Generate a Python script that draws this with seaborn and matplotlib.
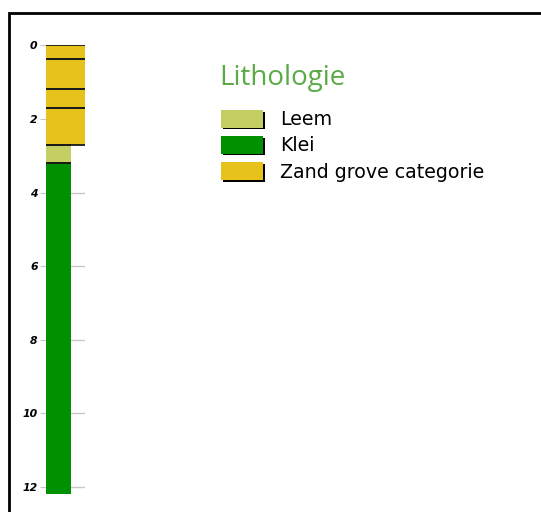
import numpy as np
import matplotlib.pyplot as plt
import matplotlib.patheffects as pe
from matplotlib.patches import Patch, Rectangle
import seaborn as sns

# layers of the boring (depth in m)
layer_top = [0.0, 0.38, 1.19, 1.71, 2.70, 3.19]
layer_bottom = [0.38, 1.19, 1.71, 2.70, 3.19, 12.2]
layer_litho = ["Zand grove categorie", "Zand grove categorie", "Zand grove categorie",
               "Zand grove categorie", "Leem", "Klei"]
litho_width = {"Zand grove categorie": 1.0, "Leem": 0.63, "Klei": 0.63}

legend_names = ["Leem", "Klei", "Zand grove categorie"]
litho_colors = {"Leem": "#c4ce62", "Klei": "#009100", "Zand grove categorie": "#e6c21a"}
depth_ticks = [0, 2, 4, 6, 8, 10, 12]

sns.set_style("white")
plt.rcParams['font.family'] = ['DejaVu Sans']

W, H = 541, 512
fig = plt.figure(figsize=(W / 100, H / 100), dpi=100)
ax = fig.add_axes([46 / W, 1 - 494.3 / H, 39 / W, (494.3 - 45.3) / H])

for top, bot, lit in zip(layer_top, layer_bottom, layer_litho):
    ax.bar(0, bot - top, bottom=top, width=litho_width[lit], align='edge',
           color=litho_colors[lit], edgecolor='none', zorder=2)
# boundary lines between the layers
for i, (top, lit) in enumerate(zip(layer_top, layer_litho)):
    ax.hlines(top, 0, litho_width[lit], color='#1a1a1a', lw=1.3, zorder=3)
    if i < len(layer_top) - 1:
        ax.hlines(layer_bottom[i], 0, litho_width[lit], color='#1a1a1a', lw=1.3, zorder=3)

ax.set_xlim(0, 1)
ax.set_ylim(max(layer_bottom), 0)
ax.set_yticks(depth_ticks)
ax.set_yticklabels([str(t) for t in depth_ticks], fontsize=7.8, fontweight='bold',
                   style='italic', color='black')
ax.set_xticks([])
ax.yaxis.grid(True, color='#c8c8c8', lw=1, zorder=0)
ax.set_axisbelow(True)
ax.tick_params(axis='y', length=4, width=0.8, color='#c8c8c8', pad=2, left=True)
for s in ax.spines.values():
    s.set_visible(False)
ax.patch.set_alpha(0)

# frame around the figure (only left and top visible)
fig.patches.append(Rectangle((9 / W, -0.2), 1.2, 1.2 - 13 / H, transform=fig.transFigure,
                             fill=False, lw=2, edgecolor='black'))

fig.text(219 / W, 1 - 85 / H, "Lithologie", fontsize=20, color='#5aab46',
         family=['Open Sans', 'DejaVu Sans'], va='baseline')

shadow = [pe.SimplePatchShadow(offset=(1.2, -1.2), shadow_rgbFace='black', alpha=1), pe.Normal()]
handles = [Patch(facecolor=litho_colors[n], edgecolor='none', label=n, path_effects=shadow)
           for n in legend_names]
fig.legend(handles=handles, loc='upper left', bbox_to_anchor=(221 / W, 1 - 110 / H),
           frameon=False, fontsize=13.7, handlelength=2.2, handleheight=1.05,
           handletextpad=0.9, labelspacing=0.36, borderpad=0, borderaxespad=0,
           labelcolor='black')

fig.savefig("out.png", dpi=100)
